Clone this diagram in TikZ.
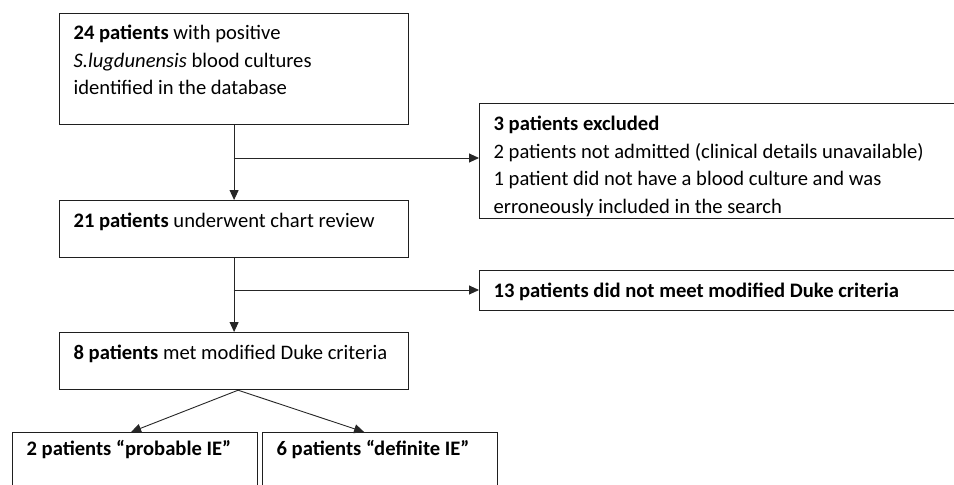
\documentclass[tikz,border=0pt]{standalone}
\usepackage{fontspec}
\setmainfont{Carlito}
\usetikzlibrary{arrows.meta}
\newcommand{\boxtxt}[4]{\parbox[c][#2][t]{#1}{\raggedright\leftskip=14pt\rule{0pt}{#3}#4}}
\begin{document}
\begin{tikzpicture}[x=1pt,y=-1pt,
  flowbox/.style={draw=black!88,line width=1.2pt,inner sep=0pt,anchor=north west,
    font=\fontsize{20.6pt}{27.5pt}\selectfont},
  flowarr/.style={draw=black!85,line width=0.9pt,-{Triangle[length=10pt,width=9pt]}},
  flowline/.style={draw=black!85,line width=0.9pt}]
\clip (0,0) rectangle (954,485);
\fill[white] (0,0) rectangle (954,485);
\node[flowbox] (b1) at (59,13) {\boxtxt{349pt}{111pt}{26pt}{\textbf{24 patients} with positive\\\textit{S.lugdunensis} blood cultures\\identified in the database}};
\node[flowbox] (ex) at (479,103) {\boxtxt{490pt}{115pt}{27pt}{\textbf{3 patients excluded}\\2 patients not admitted (clinical details unavailable)\\1 patient did not have a blood culture and was\\erroneously included in the search}};
\node[flowbox] (b2) at (59,200) {\boxtxt{349pt}{57pt}{27pt}{\textbf{21 patients} underwent chart review}};
\node[flowbox] (dn) at (479,270) {\boxtxt{490pt}{40pt}{27pt}{\textbf{13 patients did not meet modified Duke criteria}}};
\node[flowbox] (b3) at (59,332) {\boxtxt{349pt}{57pt}{27pt}{\textbf{8 patients} met modified Duke criteria}};
\node[flowbox] (pr) at (12,432) {\boxtxt{245pt}{70pt}{23pt}{\textbf{2 patients “probable IE”}}};
\node[flowbox] (df) at (262,432) {\boxtxt{235pt}{70pt}{23pt}{\textbf{6 patients “definite IE”}}};
\coordinate (j1) at (233.5,158);
\coordinate (j2) at (233.5,290);
\draw[flowarr] (b1.south) -- (b2.north);
\draw[flowarr] (j1) -- (ex.west |- j1);
\draw[flowarr] (b2.south) -- (b3.north);
\draw[flowarr] (j2) -- (dn.west |- j2);
\draw[flowarr] ([xshift=4pt]b3.south) -- ([xshift=-4pt]pr.north);
\draw[flowarr] ([xshift=4pt]b3.south) -- ([xshift=-16pt]df.north);
\end{tikzpicture}
\end{document}
